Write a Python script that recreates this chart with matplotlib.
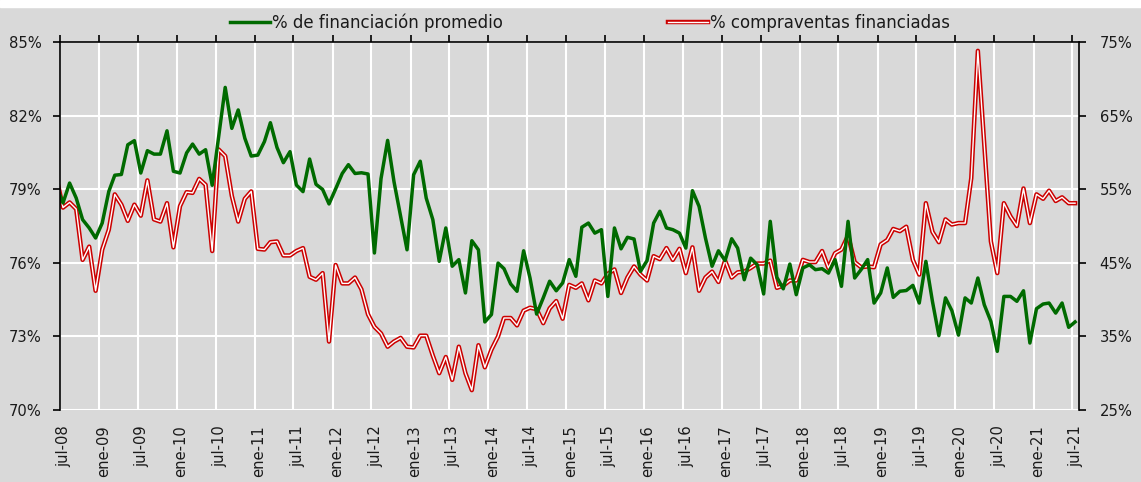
import datetime as dt

import numpy as np
import pandas as pd
import matplotlib
matplotlib.use("Agg")
import matplotlib.pyplot as plt
from matplotlib.lines import Line2D
from matplotlib.patches import Rectangle
from matplotlib.transforms import ScaledTranslation

##############################################
# Data (monthly, jun-08 .. jul-21)
##############################################
# % de financiacion promedio (left axis)
financiacion = [
    79.1,
    78.44, 79.25, 78.64, 77.76, 77.42, 77.01, 77.62, 78.91, 79.57, 79.60, 80.81, 80.98,
    79.66, 80.57, 80.43, 80.43, 81.38, 79.73, 79.66, 80.48, 80.84, 80.43, 80.61, 79.16,
    81.13, 83.15, 81.48, 82.23, 81.08, 80.35, 80.39, 80.94, 81.71, 80.70, 80.08, 80.53,
    79.17, 78.90, 80.23, 79.20, 78.99, 78.40, 79.01, 79.64, 80.00, 79.64, 79.67, 79.62,
    76.40, 79.43, 80.99, 79.30, 77.90, 76.53, 79.59, 80.14, 78.64, 77.76, 76.06, 77.42,
    75.86, 76.13, 74.77, 76.90, 76.53, 73.59, 73.89, 75.99, 75.76, 75.14, 74.84, 76.49,
    75.38, 73.91, 74.57, 75.25, 74.86, 75.18, 76.13, 75.45, 77.45, 77.62, 77.21, 77.35,
    74.63, 77.42, 76.57, 77.04, 76.97, 75.65, 76.09, 77.62, 78.10, 77.42, 77.35, 77.21,
    76.60, 78.94, 78.30, 77.01, 75.86, 76.49, 76.09, 76.98, 76.60, 75.31, 76.19, 75.92,
    74.73, 77.69, 75.41, 74.94, 75.95, 74.70, 75.79, 75.92, 75.72, 75.76, 75.58, 76.13,
    75.04, 77.69, 75.38, 75.72, 76.13, 74.36, 74.77, 75.79, 74.59, 74.84, 74.87, 75.08,
    74.36, 76.06, 74.42, 73.03, 74.57, 74.05, 73.05, 74.57, 74.36, 75.38, 74.29, 73.61,
    72.39, 74.63, 74.63, 74.43, 74.86, 72.73, 74.13, 74.32, 74.36, 73.95, 74.36, 73.37,
    73.59,
]

# % compraventas financiadas (right axis)
compraventas = [
    56.5,
    52.5, 53.2, 52.3, 45.4, 47.2, 41.2, 46.8, 49.5, 54.3, 52.9, 50.7, 52.9,
    51.4, 56.2, 50.9, 50.6, 53.1, 47.1, 52.7, 54.6, 54.5, 56.4, 55.6, 46.6,
    60.4, 59.5, 54.1, 50.6, 53.7, 54.7, 46.9, 46.8, 47.8, 47.9, 46.0, 46.0,
    46.6, 47.0, 43.1, 42.7, 43.6, 34.3, 44.7, 42.2, 42.2, 43.0, 41.4, 38.0,
    36.3, 35.4, 33.6, 34.3, 34.8, 33.6, 33.5, 35.1, 35.1, 32.4, 30.0, 32.2,
    29.1, 33.6, 30.0, 27.7, 33.8, 30.8, 33.2, 35.0, 37.5, 37.5, 36.5, 38.5,
    38.9, 38.7, 36.8, 38.8, 39.8, 37.4, 42.0, 41.6, 42.2, 39.9, 42.6, 42.2,
    43.5, 44.1, 40.9, 43.0, 44.5, 43.4, 42.6, 45.9, 45.5, 47.0, 45.4, 46.9,
    43.6, 47.1, 41.2, 43.0, 43.8, 42.4, 45.3, 43.0, 43.7, 43.8, 44.3, 44.9,
    44.9, 45.3, 41.6, 41.9, 42.6, 42.6, 45.4, 45.1, 45.1, 46.6, 44.3, 46.3,
    46.8, 48.7, 45.1, 44.4, 44.5, 44.4, 47.5, 48.1, 49.6, 49.3, 49.9, 45.4,
    43.4, 53.1, 49.2, 47.8, 50.9, 50.2, 50.4, 50.4, 56.5, 73.8, 61.0, 47.9,
    43.6, 53.1, 51.3, 50.0, 55.1, 50.4, 54.3, 53.7, 54.8, 53.4, 53.9, 53.1,
    53.1,
]

tick_labels = [
    "jul-08", "ene-09", "jul-09", "ene-10", "jul-10", "ene-11", "jul-11",
    "ene-12", "jul-12", "ene-13", "jul-13", "ene-14", "jul-14", "ene-15",
    "jul-15", "ene-16", "jul-16", "ene-17", "jul-17", "ene-18", "jul-18",
    "ene-19", "jul-19", "ene-20", "jul-20", "ene-21", "jul-21",
]

left_ticks = [70, 73, 76, 79, 82, 85]
right_ticks = [25, 35, 45, 55, 65, 75]

label_fin = "% de financiación promedio"
label_comp = "% compraventas financiadas"

# dates: mid-month observations
dates = pd.date_range("2008-06-01", periods=len(financiacion), freq="MS") + pd.Timedelta(days=14)
tick_dates = pd.date_range("2008-07-01", periods=len(tick_labels), freq="6MS")

##############################################
# Style
##############################################
BG = "#d9d9d9"
GREEN = "#006a00"
RED = "#cc0000"
TXT = "#1a1a1a"
FS = 10.6
plt.rcParams["font.family"] = ["DejaVu Sans"]

W, H = 1141, 482
fig = plt.figure(figsize=(W / 100, H / 100), dpi=100)
fig.patch.set_facecolor(BG)
fig.add_artist(Rectangle((0, 1 - 7 / H), 1, 7 / H, transform=fig.transFigure,
                         color="white", zorder=0))

left, right, top, bottom = 60, 1078.7, 42, 410
ax = fig.add_axes([left / W, 1 - bottom / H, (right - left) / W, (bottom - top) / H])
ax.set_facecolor(BG)
ax2 = ax.twinx()

##############################################
# Plot
##############################################
# red double line on right axis
ax.plot(dates, compraventas, color=RED, lw=3.2, solid_joinstyle="round", zorder=3)
ax.plot(dates, compraventas, color="white", lw=1.0, solid_joinstyle="round", zorder=4)

# green on left axis (drawn on top)
ax2.plot(dates, financiacion, color=GREEN, lw=2.5, solid_joinstyle="round")

ax.set_xlim(dt.datetime(2008, 7, 1), dt.datetime(2021, 8, 1))
ax.set_ylim(25, 75)
ax2.set_ylim(70, 85)

ax.set_xticks(tick_dates)
ax.set_xticklabels(tick_labels, rotation=90, fontsize=FS, color=TXT)

ax.yaxis.tick_right()
ax.set_yticks(right_ticks)
ax.set_yticklabels([f"{v}%" for v in right_ticks], fontsize=FS, color=TXT)
ax2.yaxis.tick_left()
ax2.set_yticks(left_ticks)
ax2.set_yticklabels([f"{v}%" for v in left_ticks], fontsize=FS, color=TXT)

ax.grid(True, color="white", lw=1.5)
ax.set_axisbelow(True)

ax.tick_params(axis="x", top=True, bottom=False, labeltop=False, labelbottom=True,
               direction="out", length=5, width=1.2, pad=6)
ax.tick_params(axis="y", direction="out", length=5, width=1.2, pad=10)
ax2.tick_params(axis="y", direction="out", length=5, width=1.2, pad=8)

for s in ["left", "bottom"]:
    ax.spines[s].set_visible(False)
for s in ["top", "right"]:
    ax.spines[s].set_linewidth(1.2)
for s in ["top", "right", "bottom"]:
    ax2.spines[s].set_visible(False)
ax2.spines["left"].set_linewidth(1.2)

# shift tick labels slightly right like the original
offset = ScaledTranslation(4 / 100, 0, fig.dpi_scale_trans)
for lbl in ax.get_xticklabels():
    lbl.set_transform(lbl.get_transform() + offset)

##############################################
# Legend
##############################################
h_green = Line2D([], [], color=GREEN, lw=2.5)
h_red = (Line2D([], [], color=RED, lw=3.2), Line2D([], [], color="white", lw=1.0))
fig.legend([h_green, h_red], [label_fin, label_comp], loc="center",
           bbox_to_anchor=(590 / W, 1 - 23 / H), ncol=2, frameon=False,
           fontsize=12, handlelength=2.4, handletextpad=0.15, columnspacing=9.9,
           labelcolor=TXT)

fig.savefig("out.png", dpi=100, facecolor=BG)
